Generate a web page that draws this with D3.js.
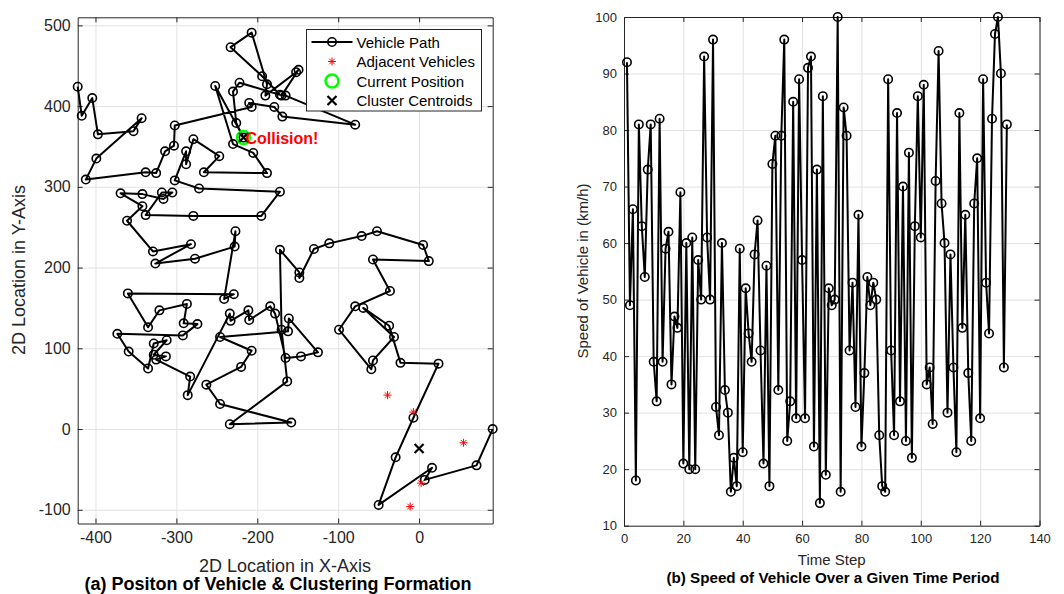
<!DOCTYPE html>
<html>
<head>
<meta charset="utf-8">
<script src="https://cdn.jsdelivr.net/npm/d3@7"></script>
<style>
body { margin: 0; background: #fff; }
svg { font-family: "Liberation Sans", Arial, sans-serif; }
.axis text { fill: #262626; }
.axis path, .axis line { stroke: #262626; }
.grid line { stroke: #e2e2e2; }
.grid path { display: none; }
</style>
</head>
<body>
<svg id="chart" width="1064" height="594"></svg>
<script>
// ---- left panel: vehicle path (x, y in metres)
var pathX = [-422,-417,-404,-397,-353,-343,-399,-412,-338,-325,-314,-303,-302,-207,-210,-179,-169,-79,-165,-170,
             -149,-152,-190,-188,-207,-233,-194,-172,-222,-230,-226,-217,-252,-230,-205,-188,-266,-247,-279,-288,
             -288,-302,-272,-172,-195,-279,-338,-318,-305,-316,-342,-369,-342,-361,-329,-282,-326,-277,-228,-227,
             -241,-229,-360,-335,-321,-287,-291,-274,-292,-373,-359,-335,-328,-312,-328,-313,-325,-283,-286,-234,
             -233,-211,-210,-184,-178,-165,-146,-125,-161,-162,-246,-207,-220,-263,-246,-158,-234,-163,-170,-172,
             -148,-148,-130,-111,-71,-52,5,12,-57,-36,-79,-99,-59,-57,-31,-69,-37,-23,24,-7,
             -29,-50,16,7,71,91];
var pathY = [424,388,410,365,369,385,335,309,318,317,344,351,376,399,404,399,387,377,413,413,
             445,442,413,427,491,473,437,414,429,418,379,361,425,353,342,317,318,338,359,328,
             344,308,298,294,264,264,265,293,293,285,291,292,276,258,220,229,205,211,226,245,
             161,167,168,126,147,155,131,130,116,118,96,75,106,110,92,90,86,65,42,143,
             134,147,135,152,143,88,90,95,137,121,114,97,77,55,31,8,6,59,123,222,
             194,187,223,230,239,245,228,208,210,171,152,123,74,85,114,150,128,82,81,14,
             -35,-94,-48,-63,-45,0];
var adjX = [-39, -7, 55, 2.5, -11];
var adjY = [42, 21, -17, -67, -96];
var currentPos = [-217, 361];
var centX = [0, -217];
var centY = [-24, 361];
var xTicksA = [-400, -300, -200, -100, 0];
var yTicksA = [-100, 0, 100, 200, 300, 400, 500];

// ---- right panel: speed per time step (km/h)
var speed = [92,49,66,18,81,63,54,73,81,39, 32,82,39,59,62,35,47,45,69,21,
             60,20,61,20,57,50,93,61,50,96, 31,26,60,34,30,16,22,17,59,23,
             52,44,39,58,64,41,21,56,17,74, 79,34,79,96,25,32,85,29,89,57,
             29,91,93,24,73,14,86,19,52,49, 50,100,16,84,79,41,53,31,65,24,
             37,54,49,53,50,26,17,16,89,41, 26,83,32,70,25,76,22,63,86,61,
             88,35,38,28,71,94,67,60,30,58, 38,23,83,45,65,37,25,67,75,29,
             89,53,44,82,97,100,90,38,81];
var steps = speed.map(function(d, i) { return i + 1; });
var xTicksB = [0, 20, 40, 60, 80, 100, 120, 140];
var yTicksB = [10, 20, 30, 40, 50, 60, 70, 80, 90, 100];

var svg = d3.select('#chart');
svg.append('rect').attr('width', 1064).attr('height', 594).attr('fill', '#fff');

var plain = function(d) { return String(d); };   // hyphen minus, like the original

function frame(g, x, y, xt, yt, fs)
{
    var r = x.range(), h = y.range();
    var left = r[0], right = r[1], top = h[1], bottom = h[0];

    g.append('g').attr('class', 'grid')
        .attr('transform', 'translate(0,' + bottom + ')')
        .call(d3.axisBottom(x).tickValues(xt).tickSize(-(bottom - top)).tickFormat(''));
    g.append('g').attr('class', 'grid')
        .attr('transform', 'translate(' + left + ',0)')
        .call(d3.axisLeft(y).tickValues(yt).tickSize(-(right - left)).tickFormat(''));

    g.append('g').attr('class', 'axis').attr('transform', 'translate(0,' + bottom + ')')
        .call(d3.axisBottom(x).tickValues(xt).tickFormat(plain).tickSizeInner(-5).tickSizeOuter(0).tickPadding(8));
    g.append('g').attr('class', 'axis').attr('transform', 'translate(' + left + ',0)')
        .call(d3.axisLeft(y).tickValues(yt).tickFormat(plain).tickSizeInner(-5).tickSizeOuter(0).tickPadding(7));
    g.append('g').attr('class', 'axis').attr('transform', 'translate(0,' + top + ')')
        .call(d3.axisTop(x).tickValues(xt).tickSizeInner(-5).tickSizeOuter(0).tickFormat(''));
    g.append('g').attr('class', 'axis').attr('transform', 'translate(' + right + ',0)')
        .call(d3.axisRight(y).tickValues(yt).tickSizeInner(-5).tickSizeOuter(0).tickFormat(''));

    g.selectAll('.axis').attr('font-family', null).attr('font-size', fs);
    g.selectAll('.axis path').attr('stroke-width', 1);
}

// ================= left panel =================
var xA = d3.scaleLinear().domain([-422, 91]).range([77.7, 492.7]);
var yA = d3.scaleLinear().domain([-117, 510]).range([523.5, 17.3]);
var gA = svg.append('g');
frame(gA, xA, yA, xTicksA, yTicksA, 16);

var pts = pathX.map(function(d, i) { return [d, pathY[i]]; });
gA.append('path').datum(pts)
    .attr('fill', 'none').attr('stroke', '#000').attr('stroke-width', 2)
    .attr('stroke-linejoin', 'round')
    .attr('d', d3.line().x(function(d) { return xA(d[0]); }).y(function(d) { return yA(d[1]); }));
gA.selectAll('circle.pt').data(pts).enter().append('circle')
    .attr('class', 'pt')
    .attr('cx', function(d) { return xA(d[0]); })
    .attr('cy', function(d) { return yA(d[1]); })
    .attr('r', 4.2).attr('fill', 'none').attr('stroke', '#000').attr('stroke-width', 1.6);

var star = 'M-4,0H4M0,-4V4M-2.8,-2.8L2.8,2.8M-2.8,2.8L2.8,-2.8';
var cross = 'M-4.5,-4.5L4.5,4.5M-4.5,4.5L4.5,-4.5';
gA.selectAll('path.adj').data(adjX).enter().append('path')
    .attr('class', 'adj')
    .attr('transform', function(d, i) { return 'translate(' + xA(d) + ',' + yA(adjY[i]) + ')'; })
    .attr('d', star).attr('stroke', '#ff0000').attr('stroke-width', 1).attr('fill', 'none');
gA.append('circle')
    .attr('cx', xA(currentPos[0])).attr('cy', yA(currentPos[1]))
    .attr('r', 6.5).attr('fill', 'none').attr('stroke', '#00ff00').attr('stroke-width', 2.5);
gA.selectAll('path.cent').data(centX).enter().append('path')
    .attr('class', 'cent')
    .attr('transform', function(d, i) { return 'translate(' + xA(d) + ',' + yA(centY[i]) + ')'; })
    .attr('d', cross).attr('stroke', '#000').attr('stroke-width', 2.2).attr('fill', 'none');
gA.append('text')
    .attr('x', xA(currentPos[0]) + 2).attr('y', yA(currentPos[1]) + 6)
    .attr('fill', '#ff0000').attr('font-weight', 'bold').attr('font-size', 16)
    .text('Collision!');

// legend
var lg = gA.append('g').attr('transform', 'translate(306.5,29.5)');
lg.append('rect').attr('width', 175).attr('height', 81.5)
    .attr('fill', '#fff').attr('stroke', '#262626').attr('stroke-width', 1);
var legendItems = ['Vehicle Path', 'Adjacent Vehicles', 'Current Position', 'Cluster Centroids'];
legendItems.forEach(function(t, i) {
    var cy = 12.5 + i * 19.5, cx = 25.5;
    if (i === 0) {
        lg.append('line').attr('x1', 5).attr('x2', 46).attr('y1', cy).attr('y2', cy)
            .attr('stroke', '#000').attr('stroke-width', 2);
        lg.append('circle').attr('cx', cx).attr('cy', cy).attr('r', 4.2)
            .attr('fill', 'none').attr('stroke', '#000').attr('stroke-width', 1.6);
    } else if (i === 1) {
        lg.append('path').attr('transform', 'translate(' + cx + ',' + cy + ')')
            .attr('d', star).attr('stroke', '#ff0000').attr('stroke-width', 1);
    } else if (i === 2) {
        lg.append('circle').attr('cx', cx).attr('cy', cy).attr('r', 6.5)
            .attr('fill', 'none').attr('stroke', '#00ff00').attr('stroke-width', 2.5);
    } else {
        lg.append('path').attr('transform', 'translate(' + cx + ',' + cy + ')')
            .attr('d', cross).attr('stroke', '#000').attr('stroke-width', 2.2);
    }
    lg.append('text').attr('x', 50).attr('y', cy + 5.5)
        .attr('font-size', 15).attr('fill', '#000').text(t);
});

// labels
gA.append('text').attr('x', 285).attr('y', 572).attr('text-anchor', 'middle')
    .attr('font-size', 18).attr('fill', '#262626').text('2D Location in X-Axis');
gA.append('text').attr('transform', 'translate(25,270) rotate(-90)').attr('text-anchor', 'middle')
    .attr('font-size', 18).attr('fill', '#262626').text('2D Location in Y-Axis');
gA.append('text').attr('x', 278).attr('y', 590).attr('text-anchor', 'middle')
    .attr('font-size', 18).attr('font-weight', 'bold').attr('fill', '#000')
    .text('(a) Positon of Vehicle & Clustering Formation');

// ================= right panel =================
var xB = d3.scaleLinear().domain([0, 140]).range([624, 1039.5]);
var yB = d3.scaleLinear().domain([10, 100]).range([525.7, 17]);
var gB = svg.append('g');
frame(gB, xB, yB, xTicksB, yTicksB, 13);

gB.append('path').datum(speed)
    .attr('fill', 'none').attr('stroke', '#000').attr('stroke-width', 2)
    .attr('stroke-linejoin', 'round')
    .attr('d', d3.line().x(function(d, i) { return xB(steps[i]); }).y(function(d) { return yB(d); }));
gB.selectAll('circle.sp').data(speed).enter().append('circle')
    .attr('class', 'sp')
    .attr('cx', function(d, i) { return xB(steps[i]); })
    .attr('cy', function(d) { return yB(d); })
    .attr('r', 4.2).attr('fill', 'none').attr('stroke', '#000').attr('stroke-width', 1.6);

gB.append('text').attr('x', 831.7).attr('y', 565).attr('text-anchor', 'middle')
    .attr('font-size', 15).attr('fill', '#262626').text('Time Step');
gB.append('text').attr('transform', 'translate(588,271) rotate(-90)').attr('text-anchor', 'middle')
    .attr('font-size', 15).attr('fill', '#262626').text('Speed of Vehicle in (km/h)');
gB.append('text').attr('x', 833).attr('y', 583).attr('text-anchor', 'middle')
    .attr('font-size', 15.2).attr('font-weight', 'bold').attr('fill', '#000')
    .text('(b) Speed of Vehicle Over a Given Time Period');
</script>
</body>
</html>
